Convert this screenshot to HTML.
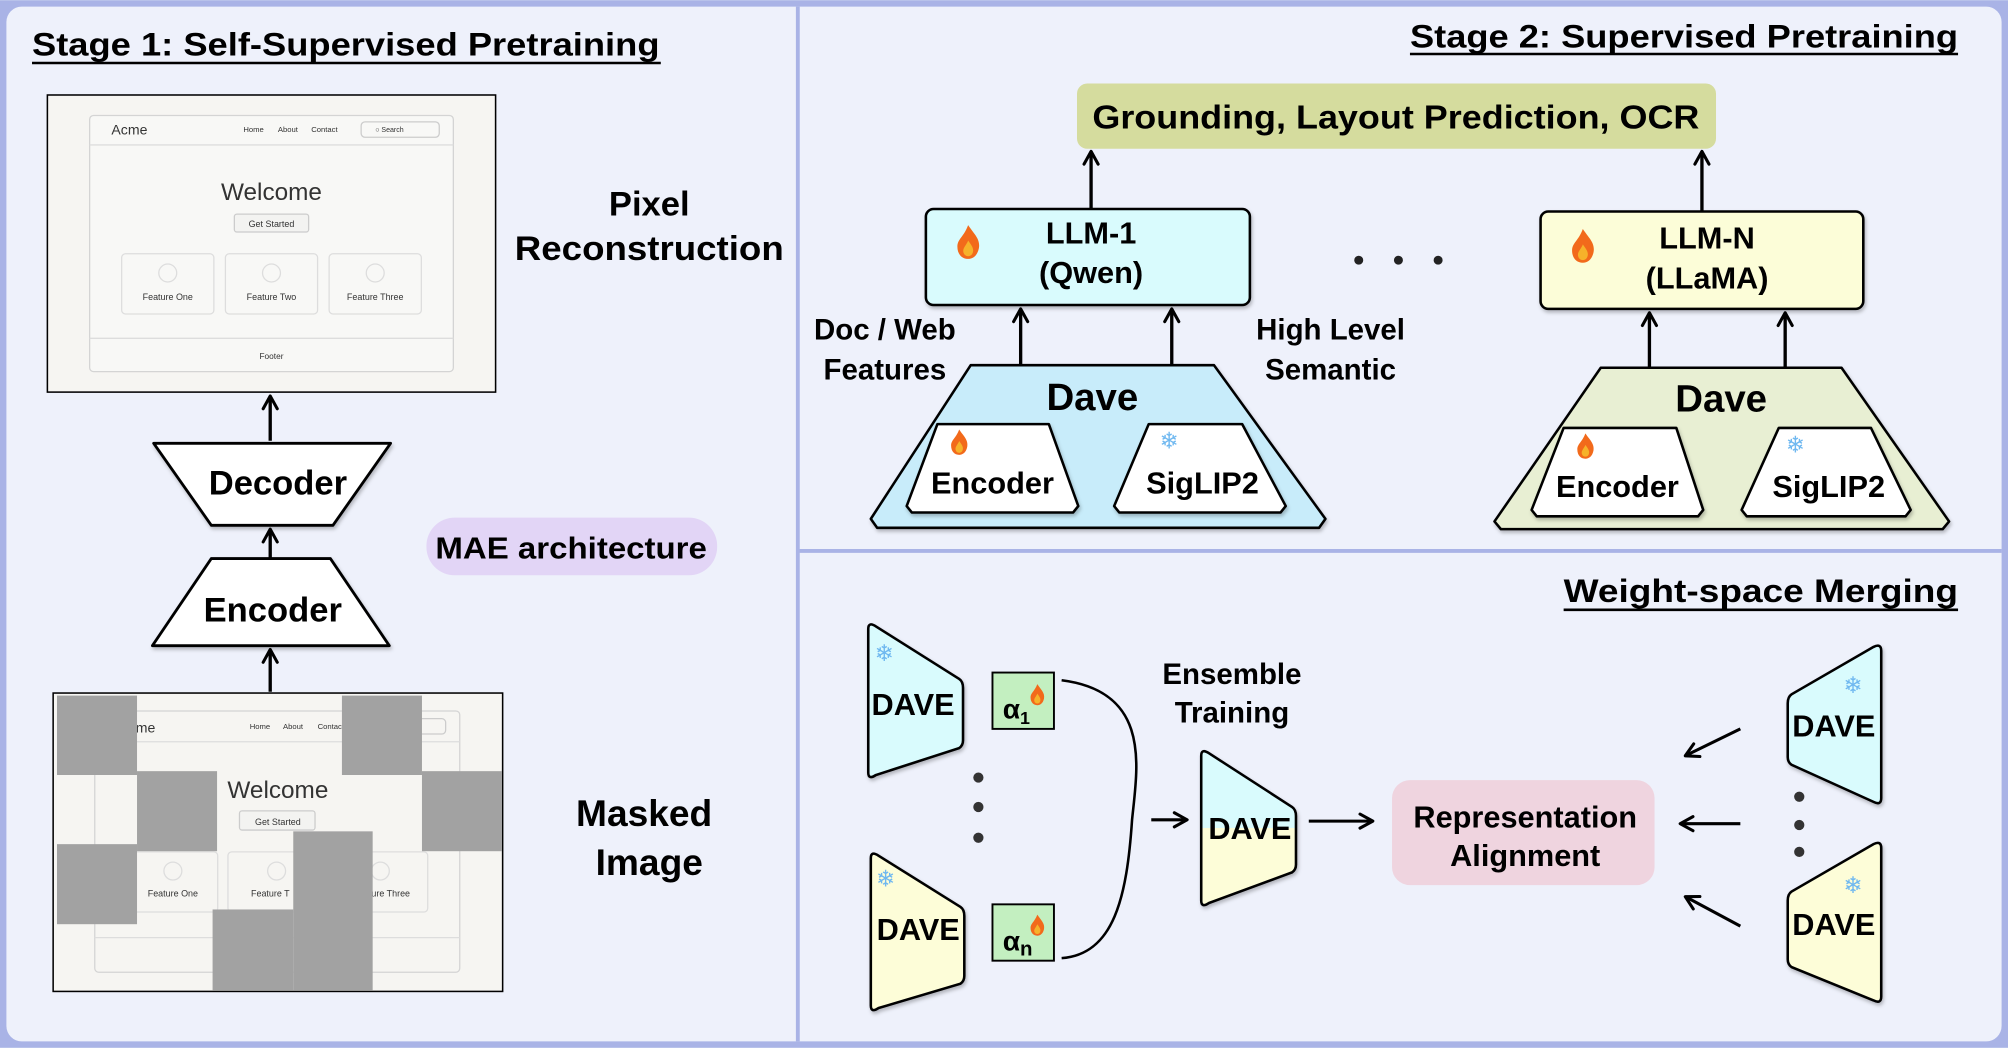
<!DOCTYPE html>
<html><head><meta charset="utf-8">
<style>
html,body{margin:0;padding:0;background:#eef1fb;}
svg{display:block;}
text{font-family:"Liberation Sans",Arial,sans-serif;font-weight:bold;fill:#000;}
.n{font-weight:normal;fill:#333;}
</style></head><body>
<svg width="2008" height="1048" viewBox="0 0 1568 818" xmlns="http://www.w3.org/2000/svg">
<defs>
<marker id="ah" viewBox="0 0 14 14" refX="12" refY="7" markerWidth="14" markerHeight="14" markerUnits="userSpaceOnUse" orient="auto">
<path d="M2,1.5 L12,7 L2,12.5" fill="none" stroke="#000" stroke-width="2.4" stroke-linecap="round" stroke-linejoin="round"/></marker>
<linearGradient id="cy" x1="0" y1="0" x2="0" y2="1"><stop offset="0.5" stop-color="#d9fbfd"/><stop offset="0.5" stop-color="#fdfdd8"/></linearGradient>
<g id="flame"><path d="M0,-12 C4,-6 8,-3 7,3 C6,8 3,10 0,10 C-4,10 -7,7 -7,2 C-7,-3 -3,-4 0,-12Z" fill="#f26a1b"/><path d="M0,-2 C2,1 4,3 3,6 C2,9 -2,9 -3,6 C-4,3 -1,1 0,-2Z" fill="#f6b22a"/></g>
<filter id="sh" x="-10%" y="-10%" width="130%" height="130%"><feDropShadow dx="1" dy="2" stdDeviation="1.5" flood-opacity="0.25"/></filter>
</defs>
<rect x="0" y="0" width="1568" height="818" fill="#a9b3e6"/>
<rect x="5" y="5" width="1558" height="808" rx="12" fill="#eef1fb"/>
<line x1="623" y1="5" x2="623" y2="813" stroke="#a9b3e6" stroke-width="3"/>
<line x1="623" y1="430" x2="1563" y2="430" stroke="#a9b3e6" stroke-width="3"/>

<!-- Stage 1 -->
<text x="25" y="43" font-size="25" textLength="490" lengthAdjust="spacingAndGlyphs">Stage 1: Self-Supervised Pretraining</text>
<line x1="25" y1="49" x2="516" y2="49" stroke="#000" stroke-width="2"/>

<!-- top webpage -->
<rect x="37" y="74" width="350" height="232" fill="#f6f5f2" stroke="#000" stroke-width="1.2"/>
<rect x="70" y="90" width="284" height="200" rx="3" fill="#f8f8f6" stroke="#d4d4d4" stroke-width="1"/>
<line x1="70" y1="113" x2="354" y2="113" stroke="#ddd"/>
<line x1="70" y1="264" x2="354" y2="264" stroke="#ddd"/>
<text x="87" y="105" font-size="11" class="n">Acme</text>
<text x="190" y="103" font-size="6" class="n">Home</text>
<text x="217" y="103" font-size="6" class="n">About</text>
<text x="243" y="103" font-size="6" class="n">Contact</text>
<rect x="282" y="95" width="61" height="12" rx="3" fill="none" stroke="#ccc"/>
<text x="293" y="103" font-size="5.5" class="n">○ Search</text>
<text x="212" y="156" font-size="19" class="n" text-anchor="middle">Welcome</text>
<rect x="183" y="167" width="58" height="14" rx="2" fill="#f3f3f1" stroke="#ccc"/>
<text x="212" y="177" font-size="7" class="n" text-anchor="middle">Get Started</text>
<rect x="95" y="198" width="72" height="47" rx="3" fill="none" stroke="#ddd"/>
<rect x="176" y="198" width="72" height="47" rx="3" fill="none" stroke="#ddd"/>
<rect x="257" y="198" width="72" height="47" rx="3" fill="none" stroke="#ddd"/>
<circle cx="131" cy="213" r="7" fill="none" stroke="#ddd"/><circle cx="212" cy="213" r="7" fill="none" stroke="#ddd"/><circle cx="293" cy="213" r="7" fill="none" stroke="#ddd"/>
<text x="131" y="234" font-size="7" class="n" text-anchor="middle">Feature One</text>
<text x="212" y="234" font-size="7" class="n" text-anchor="middle">Feature Two</text>
<text x="293" y="234" font-size="7" class="n" text-anchor="middle">Feature Three</text>
<text x="212" y="280" font-size="6.5" class="n" text-anchor="middle">Footer</text>

<text x="507" y="168" font-size="27" text-anchor="middle">Pixel</text>
<text x="507" y="203" font-size="27" text-anchor="middle" textLength="210" lengthAdjust="spacingAndGlyphs">Reconstruction</text>

<!-- decoder/encoder -->
<line x1="211" y1="344" x2="211" y2="309" stroke="#000" stroke-width="2.6" marker-end="url(#ah)"/>
<path d="M120,346 L305,346 L260,410 L165,410 Z" fill="#fff" stroke="#000" stroke-width="2.2" stroke-linejoin="round" filter="url(#sh)"/>
<text x="217" y="386" font-size="27" text-anchor="middle">Decoder</text>
<line x1="211" y1="436" x2="211" y2="413" stroke="#000" stroke-width="2.6" marker-end="url(#ah)"/>
<path d="M165,436 L258,436 L304,504 L119,504 Z" fill="#fff" stroke="#000" stroke-width="2.2" stroke-linejoin="round" filter="url(#sh)"/>
<text x="213" y="485" font-size="27" text-anchor="middle">Encoder</text>
<line x1="211" y1="540" x2="211" y2="507" stroke="#000" stroke-width="2.6" marker-end="url(#ah)"/>

<rect x="333" y="404" width="227" height="45" rx="22" fill="#e2d5f6"/>
<text x="446" y="436" font-size="24" text-anchor="middle" textLength="212" lengthAdjust="spacingAndGlyphs">MAE architecture</text>

<!-- masked image -->
<rect x="41.5" y="541" width="351" height="233" fill="#f6f5f2" stroke="#000" stroke-width="1.2"/>
<rect x="74" y="555" width="285" height="204" rx="3" fill="none" stroke="#d4d4d4"/>
<line x1="74" y1="579" x2="359" y2="579" stroke="#ddd"/>
<line x1="74" y1="732" x2="359" y2="732" stroke="#ddd"/>
<text x="106" y="572" font-size="11" class="n">me</text>
<text x="195" y="569" font-size="6" class="n">Home</text>
<text x="221" y="569" font-size="6" class="n">About</text>
<text x="248" y="569" font-size="6" class="n">Contact</text>
<rect x="288" y="561" width="60" height="12" rx="3" fill="none" stroke="#ccc"/>
<text x="217" y="623" font-size="19" class="n" text-anchor="middle">Welcome</text>
<rect x="187" y="633" width="59" height="15" rx="2" fill="#f3f3f1" stroke="#ccc"/>
<text x="217" y="644" font-size="7" class="n" text-anchor="middle">Get Started</text>
<rect x="98" y="665" width="72" height="47" rx="3" fill="none" stroke="#ddd"/>
<rect x="178" y="665" width="72" height="47" rx="3" fill="none" stroke="#ddd"/>
<rect x="258" y="665" width="76" height="47" rx="3" fill="none" stroke="#ddd"/>
<circle cx="135" cy="680" r="7" fill="none" stroke="#ddd"/><circle cx="216" cy="680" r="7" fill="none" stroke="#ddd"/><circle cx="297" cy="680" r="7" fill="none" stroke="#ddd"/>
<text x="135" y="700" font-size="7" class="n" text-anchor="middle">Feature One</text>
<text x="196" y="700" font-size="7" class="n">Feature T</text>
<text x="290" y="700" font-size="7" class="n">ure Three</text>
<g fill="#a2a2a2">
<rect x="44.5" y="543" width="62.5" height="62"/>
<rect x="107" y="602" width="62.5" height="62.5"/>
<rect x="267" y="543" width="62.5" height="62"/>
<rect x="329.5" y="602" width="62.5" height="62.5"/>
<rect x="44.5" y="659" width="62.5" height="62.5"/>
<rect x="229" y="649" width="62" height="124"/>
<rect x="166" y="710" width="63" height="63"/>
</g>
<text x="503" y="645" font-size="29" text-anchor="middle">Masked</text>
<text x="507" y="683" font-size="29" text-anchor="middle">Image</text>

<!-- Stage 2 -->
<text x="1101" y="37" font-size="25" textLength="428" lengthAdjust="spacingAndGlyphs">Stage 2: Supervised Pretraining</text>
<line x1="1101" y1="42" x2="1529" y2="42" stroke="#000" stroke-width="2"/>

<rect x="841" y="65" width="499" height="51" rx="8" fill="#d5dc9e"/>
<text x="1090" y="100" font-size="26" text-anchor="middle" textLength="474" lengthAdjust="spacingAndGlyphs">Grounding, Layout Prediction, OCR</text>

<line x1="852" y1="163" x2="852" y2="118" stroke="#000" stroke-width="2.6" marker-end="url(#ah)"/>
<line x1="1329" y1="165" x2="1329" y2="118" stroke="#000" stroke-width="2.6" marker-end="url(#ah)"/>

<rect x="723" y="163" width="253" height="75" rx="6" fill="#d9fbfd" stroke="#000" stroke-width="2" filter="url(#sh)"/>
<use href="#flame" transform="translate(756,190) scale(1.2)"/>
<text x="852" y="190" font-size="24" text-anchor="middle">LLM-1</text>
<text x="852" y="221" font-size="24" text-anchor="middle">(Qwen)</text>

<circle cx="1061" cy="203" r="3.5" fill="#222"/><circle cx="1092" cy="203" r="3.5" fill="#222"/><circle cx="1123" cy="203" r="3.5" fill="#222"/>

<rect x="1203" y="165" width="252" height="76" rx="6" fill="#fcfdd8" stroke="#000" stroke-width="2" filter="url(#sh)"/>
<use href="#flame" transform="translate(1236,193) scale(1.2)"/>
<text x="1333" y="194" font-size="24" text-anchor="middle">LLM-N</text>
<text x="1333" y="225" font-size="24" text-anchor="middle">(LLaMA)</text>

<text x="691" y="265" font-size="23" text-anchor="middle">Doc / Web</text>
<text x="691" y="296" font-size="23" text-anchor="middle">Features</text>
<text x="1039" y="265" font-size="23" text-anchor="middle">High Level</text>
<text x="1039" y="296" font-size="23" text-anchor="middle">Semantic</text>

<line x1="797" y1="285" x2="797" y2="241" stroke="#000" stroke-width="2.6" marker-end="url(#ah)"/>
<line x1="915" y1="285" x2="915" y2="241" stroke="#000" stroke-width="2.6" marker-end="url(#ah)"/>
<line x1="1288" y1="287" x2="1288" y2="244" stroke="#000" stroke-width="2.6" marker-end="url(#ah)"/>
<line x1="1394" y1="287" x2="1394" y2="244" stroke="#000" stroke-width="2.6" marker-end="url(#ah)"/>

<path d="M758,285 L948,285 L1035,405 L1030,412 L685,412 L680,405 Z" fill="#c8ecfa" stroke="#000" stroke-width="2" stroke-linejoin="round" filter="url(#sh)"/>
<text x="853" y="320" font-size="30" text-anchor="middle">Dave</text>
<path d="M732,331 L819,331 L842,395 L838,400 L712,400 L708,395 Z" fill="#fff" stroke="#000" stroke-width="2" stroke-linejoin="round" filter="url(#sh)"/>
<use href="#flame" transform="translate(749,346) scale(0.9)"/>
<text x="775" y="385" font-size="24" text-anchor="middle">Encoder</text>
<path d="M897,331 L970,331 L1004,395 L1000,400 L874,400 L870,395 Z" fill="#fff" stroke="#000" stroke-width="2" stroke-linejoin="round" filter="url(#sh)"/>
<text x="913" y="350" font-size="18" text-anchor="middle" style="fill:#6fb8f0;font-weight:normal">❄</text>
<text x="939" y="385" font-size="24" text-anchor="middle">SigLIP2</text>

<path d="M1250,287 L1438,287 L1522,407 L1517,413 L1172,413 L1167,407 Z" fill="#e8efd3" stroke="#000" stroke-width="2" stroke-linejoin="round" filter="url(#sh)"/>
<text x="1344" y="321" font-size="30" text-anchor="middle">Dave</text>
<path d="M1221,334 L1309,334 L1330,398 L1326,403 L1200,403 L1196,398 Z" fill="#fff" stroke="#000" stroke-width="2" stroke-linejoin="round" filter="url(#sh)"/>
<use href="#flame" transform="translate(1238,349) scale(0.9)"/>
<text x="1263" y="388" font-size="24" text-anchor="middle">Encoder</text>
<path d="M1389,334 L1461,334 L1492,398 L1488,403 L1364,403 L1360,398 Z" fill="#fff" stroke="#000" stroke-width="2" stroke-linejoin="round" filter="url(#sh)"/>
<text x="1402" y="353" font-size="18" text-anchor="middle" style="fill:#6fb8f0;font-weight:normal">❄</text>
<text x="1428" y="388" font-size="24" text-anchor="middle">SigLIP2</text>

<!-- Weight-space merging -->
<text x="1221" y="470" font-size="25" textLength="308" lengthAdjust="spacingAndGlyphs">Weight-space Merging</text>
<line x1="1221" y1="476" x2="1529" y2="476" stroke="#000" stroke-width="2"/>

<path d="M678,491 Q678,485 684,489 L749,530 Q752,532 752,537 L752,578 Q752,582 749,584 L684,605 Q678,609 678,603 Z" fill="#d9fbfd" stroke="#000" stroke-width="2" filter="url(#sh)"/>
<text x="683" y="516" font-size="18" style="fill:#6fb8f0;font-weight:normal">❄</text>
<text x="713" y="558" font-size="24" text-anchor="middle">DAVE</text>
<path d="M680,670 Q680,664 686,668 L750,708 Q753,710 753,715 L753,762 Q753,766 750,768 L686,787 Q680,791 680,785 Z" fill="#fdfdd8" stroke="#000" stroke-width="2" filter="url(#sh)"/>
<text x="684" y="692" font-size="18" style="fill:#6fb8f0;font-weight:normal">❄</text>
<text x="717" y="734" font-size="24" text-anchor="middle">DAVE</text>

<circle cx="764" cy="607" r="4" fill="#333"/><circle cx="764" cy="630" r="4" fill="#333"/><circle cx="764" cy="654" r="4" fill="#333"/>

<rect x="775" y="525" width="48" height="44" fill="#c3efc0" stroke="#000" stroke-width="1.5"/>
<text x="783" y="561" font-size="22">α<tspan font-size="14" dy="4">1</tspan></text>
<use href="#flame" transform="translate(810,543) scale(0.75)"/>
<rect x="775" y="706" width="48" height="44" fill="#c3efc0" stroke="#000" stroke-width="1.5"/>
<text x="783" y="742" font-size="22">α<tspan font-size="16" dy="4">n</tspan></text>
<use href="#flame" transform="translate(810,723) scale(0.75)"/>

<path d="M829,531 C900,540 888,600 884,640 C880,700 870,745 829,748" fill="none" stroke="#000" stroke-width="2"/>

<text x="962" y="534" font-size="23" text-anchor="middle">Ensemble</text>
<text x="962" y="564" font-size="23" text-anchor="middle">Training</text>

<line x1="899" y1="640" x2="927" y2="640" stroke="#000" stroke-width="2.4" marker-end="url(#ah)"/>
<path d="M938,590 Q938,584 944,588 L1009,630 Q1012,632 1012,637 L1012,675 Q1012,679 1009,681 L944,705 Q938,709 938,703 Z" fill="url(#cy)" stroke="#000" stroke-width="2" filter="url(#sh)"/>
<text x="976" y="655" font-size="24" text-anchor="middle">DAVE</text>
<line x1="1022" y1="641" x2="1072" y2="641" stroke="#000" stroke-width="2.4" marker-end="url(#ah)"/>

<rect x="1087" y="609" width="205" height="82" rx="14" fill="#efd4df"/>
<text x="1191" y="646" font-size="24" text-anchor="middle">Representation</text>
<text x="1191" y="676" font-size="24" text-anchor="middle">Alignment</text>

<line x1="1359" y1="569" x2="1316" y2="590" stroke="#000" stroke-width="2.4" marker-end="url(#ah)"/>
<line x1="1359" y1="643" x2="1312" y2="643" stroke="#000" stroke-width="2.4" marker-end="url(#ah)"/>
<line x1="1359" y1="723" x2="1316" y2="700" stroke="#000" stroke-width="2.4" marker-end="url(#ah)"/>

<circle cx="1405" cy="622" r="4" fill="#333"/><circle cx="1405" cy="644" r="4" fill="#333"/><circle cx="1405" cy="665" r="4" fill="#333"/>

<path d="M1469,508 Q1469,502 1463,505 L1399,542 Q1396,544 1396,549 L1396,591 Q1396,595 1399,597 L1463,626 Q1469,629 1469,623 Z" fill="#d9fbfd" stroke="#000" stroke-width="2" filter="url(#sh)"/>
<text x="1447" y="541" font-size="18" text-anchor="middle" style="fill:#6fb8f0;font-weight:normal">❄</text>
<text x="1432" y="575" font-size="24" text-anchor="middle">DAVE</text>
<path d="M1469,662 Q1469,656 1463,659 L1399,696 Q1396,698 1396,703 L1396,749 Q1396,753 1399,755 L1463,781 Q1469,784 1469,778 Z" fill="#fdfdd8" stroke="#000" stroke-width="2" filter="url(#sh)"/>
<text x="1447" y="697" font-size="18" text-anchor="middle" style="fill:#6fb8f0;font-weight:normal">❄</text>
<text x="1432" y="730" font-size="24" text-anchor="middle">DAVE</text>
</svg>
</body></html>
